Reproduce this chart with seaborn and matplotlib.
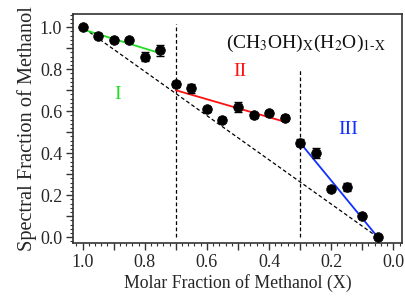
import numpy as np
import pandas as pd
import matplotlib
matplotlib.use("Agg")
import matplotlib.pyplot as plt
import seaborn as sns
from matplotlib.ticker import MultipleLocator, FuncFormatter

# data
molar_x = [1.00, 0.95, 0.90, 0.85, 0.80, 0.75, 0.70, 0.65, 0.60, 0.55,
           0.50, 0.45, 0.40, 0.35, 0.30, 0.25, 0.20, 0.15, 0.10, 0.05]
spectral_y = [1.00, 0.96, 0.94, 0.94, 0.86, 0.89, 0.73, 0.71, 0.61, 0.56,
              0.62, 0.58, 0.59, 0.57, 0.45, 0.40, 0.23, 0.24, 0.10, 0.00]
y_err = [0.005, 0.012, 0.008, 0.008, 0.022, 0.025, 0.015, 0.022, 0.012, 0.012,
         0.022, 0.010, 0.010, 0.012, 0.018, 0.025, 0.012, 0.018, 0.008, 0.005]

fit1_x = [1.00, 0.75]; fit1_y = [0.99, 0.876]
fit2_x = [0.70, 0.35]; fit2_y = [0.70, 0.55]
fit3_x = [0.30, 0.05]; fit3_y = [0.45, 0.00]
diag_x = [1.00, 0.05]; diag_y = [1.00, 0.00]
vline_x = [0.70, 0.30]
vline_top = [1.014, 0.797]

sns.set_theme(style="ticks")
plt.rcParams['font.family'] = ['Liberation Serif', 'DejaVu Serif']
plt.rcParams['mathtext.fontset'] = 'stix'

fig = plt.figure(figsize=(4.06, 3.02), dpi=100)
ax = fig.add_axes([0.1805, 0.1944, 0.809, 0.7592])

df = pd.DataFrame({"x": molar_x, "y": spectral_y, "e": y_err})

dash = (0, (3, 2))
sns.lineplot(x=diag_x, y=diag_y, ax=ax, color="black", lw=0.9, ls=dash)
ax.vlines(vline_x, 0.0, vline_top, colors="black", lw=0.9, linestyles=dash)
sns.lineplot(x=fit1_x, y=fit1_y, ax=ax, color="#22dd22", lw=1.3)
sns.lineplot(x=fit2_x, y=fit2_y, ax=ax, color="#ff1010", lw=1.3)
sns.lineplot(x=fit3_x, y=fit3_y, ax=ax, color="#1030ff", lw=1.3)

ax.errorbar(df.x, df.y, yerr=df.e, fmt="none", ecolor="black", elinewidth=1.0,
            capsize=3, capthick=1.0, zorder=4)
sns.scatterplot(data=df, x="x", y="y", ax=ax, color="black", s=48,
                edgecolor="black", zorder=5)

ax.set_xlim(1.030, -0.027)
ax.set_ylim(-0.029, 1.063)

def fmt(v, pos):
    k = int(round(v * 10))
    return f"{v:.1f}" if k % 2 == 0 else ""

for axis in (ax.xaxis, ax.yaxis):
    axis.set_major_locator(MultipleLocator(0.1))
    axis.set_minor_locator(MultipleLocator(0.02))
    axis.set_major_formatter(FuncFormatter(fmt))

ax.tick_params(axis="both", which="major", direction="out", length=5, width=1.0,
               labelsize=13, bottom=True, left=True, top=False, right=False,
               color="#333333", pad=3)
ax.tick_params(axis="both", which="minor", direction="out", length=2.5, width=0.8,
               bottom=True, left=True, top=False, right=False, color="#333333")
for s in ax.spines.values():
    s.set_color("#333333")
    s.set_linewidth(1.2)

ax.set_xlabel("Molar Fraction of Methanol (X)", fontsize=12.8, labelpad=2)
ax.set_ylabel("Spectral Fraction of Methanol", fontsize=14.7, labelpad=2)

ax.text(0.28, 0.925, r"(CH$_3$OH)$_\mathrm{X}$(H$_2$O)$_\mathrm{1\text{-}X}$", fontsize=14,
        ha="center", va="center", color="#111111")
ax.text(0.886, 0.678, "I", color="#22dd22", fontsize=14, ha="center", va="center")
ax.text(0.494, 0.787, "II", color="#ff1010", fontsize=14, ha="center", va="center")
ax.text(0.146, 0.511, "III", color="#1030ff", fontsize=14, ha="center", va="center")

fig.savefig("out.png", dpi=100)
